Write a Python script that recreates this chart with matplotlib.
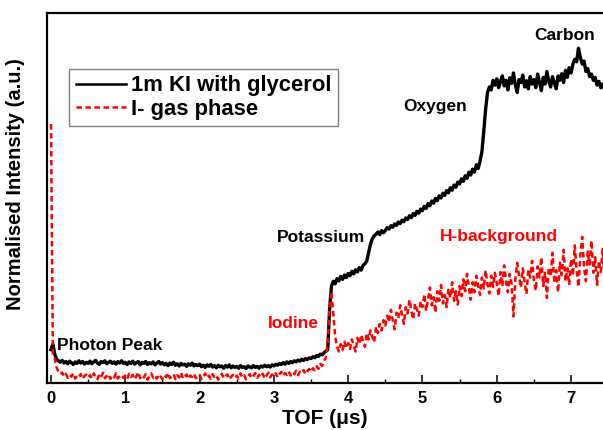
import numpy as np
import matplotlib
matplotlib.use("Agg")
import matplotlib.pyplot as plt
from matplotlib.ticker import MultipleLocator

plt.rcParams['font.family'] = ['Liberation Sans', 'DejaVu Sans']
plt.rcParams['font.weight'] = 'bold'

# sampling of the time-of-flight axis (µs)
TOF_START = 0.0
TOF_STEP = 0.025

# 1m KI with glycerol (normalised intensity), one row per 0.5 µs
ki_glycerol = [
    0.090, 0.105, 0.078, 0.064, 0.060, 0.056, 0.061, 0.054, 0.058, 0.052, 0.059, 0.055, 0.050, 0.057, 0.053, 0.060, 0.054, 0.058, 0.051, 0.056,
    0.053, 0.059, 0.052, 0.057, 0.061, 0.054, 0.050, 0.058, 0.055, 0.060, 0.052, 0.056, 0.059, 0.053, 0.057, 0.051, 0.058, 0.054, 0.060, 0.053,
    0.056, 0.050, 0.057, 0.053, 0.059, 0.051, 0.055, 0.058, 0.049, 0.056, 0.053, 0.058, 0.050, 0.055, 0.052, 0.057, 0.049, 0.054, 0.058, 0.051,
    0.055, 0.049, 0.053, 0.047, 0.054, 0.050, 0.056, 0.048, 0.052, 0.046, 0.053, 0.049, 0.051, 0.045, 0.052, 0.048, 0.054, 0.046, 0.050, 0.047,
    0.051, 0.044, 0.048, 0.042, 0.049, 0.045, 0.050, 0.043, 0.047, 0.041, 0.048, 0.044, 0.046, 0.040, 0.047, 0.043, 0.049, 0.041, 0.046, 0.042,
    0.045, 0.040, 0.047, 0.042, 0.044, 0.039, 0.046, 0.043, 0.041, 0.047, 0.042, 0.045, 0.040, 0.046, 0.043, 0.048, 0.044, 0.047, 0.043, 0.049,
    0.046, 0.051, 0.048, 0.053, 0.050, 0.055, 0.051, 0.057, 0.053, 0.058, 0.055, 0.060, 0.057, 0.062, 0.059, 0.064, 0.061, 0.066, 0.063, 0.068,
    0.066, 0.071, 0.068, 0.074, 0.072, 0.078, 0.076, 0.082, 0.086, 0.090, 0.200, 0.262, 0.275, 0.268, 0.282, 0.276, 0.288, 0.280, 0.292, 0.285,
    0.296, 0.290, 0.302, 0.295, 0.306, 0.300, 0.312, 0.305, 0.318, 0.322, 0.330, 0.352, 0.375, 0.390, 0.398, 0.402, 0.408, 0.401, 0.412, 0.406,
    0.412, 0.420, 0.416, 0.425, 0.421, 0.430, 0.426, 0.435, 0.431, 0.440, 0.436, 0.446, 0.442, 0.452, 0.447, 0.458, 0.453, 0.464, 0.459, 0.470,
    0.466, 0.478, 0.472, 0.485, 0.479, 0.492, 0.486, 0.499, 0.493, 0.506, 0.500, 0.513, 0.507, 0.520, 0.514, 0.528, 0.521, 0.535, 0.529, 0.543,
    0.538, 0.552, 0.545, 0.560, 0.553, 0.570, 0.562, 0.578, 0.570, 0.590, 0.580, 0.600, 0.625, 0.680, 0.740, 0.785, 0.800, 0.792, 0.818, 0.805,
    0.822, 0.798, 0.815, 0.830, 0.803, 0.818, 0.792, 0.825, 0.810, 0.838, 0.806, 0.785, 0.820, 0.812, 0.832, 0.800, 0.817, 0.795, 0.828, 0.808,
    0.820, 0.798, 0.835, 0.812, 0.790, 0.826, 0.808, 0.842, 0.815, 0.800, 0.828, 0.812, 0.795, 0.830, 0.818, 0.836, 0.812, 0.845, 0.826, 0.852,
    0.838, 0.862, 0.875, 0.868, 0.905, 0.880, 0.862, 0.870, 0.842, 0.850, 0.828, 0.835, 0.818, 0.826, 0.805, 0.815, 0.798, 0.808, 0.795, 0.800,
]

# I- gas phase (normalised intensity), one row per 0.5 µs
i_gas = [
    0.700, 0.075, 0.066, 0.042, 0.030, 0.024, 0.028, 0.018, 0.025, 0.014, 0.022, 0.017, 0.026, 0.012, 0.020, 0.016, 0.024, 0.011, 0.019, 0.023,
    0.015, 0.021, 0.012, 0.026, 0.017, 0.010, 0.023, 0.016, 0.028, 0.013, 0.019, 0.024, 0.011, 0.020, 0.015, 0.027, 0.012, 0.018, 0.022, 0.014,
    0.020, 0.011, 0.025, 0.016, 0.022, 0.010, 0.018, 0.029, 0.013, 0.021, 0.015, 0.024, 0.009, 0.019, 0.026, 0.014, 0.020, 0.012, 0.023, 0.017,
    0.011, 0.022, 0.016, 0.027, 0.013, 0.019, 0.024, 0.010, 0.021, 0.015, 0.028, 0.012, 0.018, 0.023, 0.011, 0.020, 0.016, 0.025, 0.013, 0.019,
    0.022, 0.010, 0.017, 0.026, 0.014, 0.020, 0.011, 0.024, 0.016, 0.021, 0.009, 0.018, 0.025, 0.013, 0.019, 0.023, 0.010, 0.017, 0.022, 0.014,
    0.020, 0.012, 0.026, 0.015, 0.021, 0.010, 0.018, 0.024, 0.013, 0.019, 0.027, 0.014, 0.022, 0.016, 0.025, 0.012, 0.020, 0.028, 0.015, 0.023,
    0.018, 0.026, 0.015, 0.024, 0.030, 0.019, 0.027, 0.022, 0.031, 0.020, 0.028, 0.024, 0.033, 0.021, 0.030, 0.026, 0.035, 0.024, 0.032, 0.038,
    0.030, 0.040, 0.034, 0.045, 0.038, 0.052, 0.046, 0.060, 0.068, 0.110, 0.205, 0.248, 0.185, 0.125, 0.098, 0.085, 0.105, 0.090, 0.112, 0.094,
    0.108, 0.092, 0.118, 0.100, 0.085, 0.122, 0.105, 0.130, 0.112, 0.098, 0.135, 0.118, 0.142, 0.125, 0.110, 0.152, 0.135, 0.160, 0.142, 0.170,
    0.155, 0.182, 0.165, 0.198, 0.170, 0.145, 0.190, 0.175, 0.210, 0.182, 0.160, 0.205, 0.188, 0.225, 0.195, 0.172, 0.215, 0.198, 0.182, 0.220,
    0.205, 0.240, 0.195, 0.225, 0.258, 0.210, 0.232, 0.190, 0.248, 0.222, 0.265, 0.215, 0.238, 0.205, 0.255, 0.230, 0.272, 0.222, 0.248, 0.212,
    0.262, 0.235, 0.280, 0.248, 0.295, 0.258, 0.225, 0.272, 0.245, 0.290, 0.262, 0.238, 0.285, 0.255, 0.305, 0.268, 0.242, 0.290, 0.260, 0.298,
    0.270, 0.235, 0.300, 0.262, 0.318, 0.275, 0.245, 0.295, 0.268, 0.180, 0.280, 0.325, 0.290, 0.258, 0.310, 0.272, 0.240, 0.305, 0.285, 0.330,
    0.278, 0.250, 0.315, 0.285, 0.340, 0.262, 0.298, 0.230, 0.312, 0.288, 0.352, 0.270, 0.305, 0.245, 0.325, 0.292, 0.360, 0.275, 0.310, 0.265,
    0.335, 0.290, 0.372, 0.305, 0.260, 0.345, 0.395, 0.312, 0.275, 0.355, 0.320, 0.385, 0.298, 0.340, 0.265, 0.330, 0.300, 0.362, 0.285, 0.318,
]

series_labels = ["1m KI with glycerol", "I- gas phase"]

# peak annotations: (text, x, y, colour-key)
annot_text = ["Photon Peak", "Iodine", "Potassium", "H-background", "Oxygen", "Carbon"]
annot_x = [0.08, 2.92, 3.04, 5.24, 4.74, 6.51]
annot_y = [0.100, 0.162, 0.392, 0.397, 0.746, 0.938]
annot_red = [False, True, False, True, False, False]

x_ticks = [0, 1, 2, 3, 4, 5, 6, 7]

tof = TOF_START + TOF_STEP * np.arange(len(ki_glycerol))

fig = plt.figure(figsize=(6.03, 4.30), dpi=100)
ax = fig.add_axes([47 / 603, 47 / 430, 556 / 603, 370 / 430])

ax.plot(tof, ki_glycerol, color='black', lw=2.4, label=series_labels[0])
ax.plot(tof[:len(i_gas)], i_gas, color='#ff0000', lw=1.8, ls=(0, (2.2, 1.4)), label=series_labels[1])

for t, x, y, r in zip(annot_text, annot_x, annot_y, annot_red):
    ax.text(x, y, t, color='#ff0000' if r else 'black', fontsize=12.5,
            fontweight='bold', ha='left', va='center')

ax.set_xlim(-0.054, 7.43)
ax.set_ylim(0, 1)
ax.set_xticks(x_ticks)
ax.set_xticklabels([str(v) for v in x_ticks])
ax.xaxis.set_minor_locator(MultipleLocator(0.5))
ax.tick_params(axis='x', which='major', direction='in', length=5.5, width=1.1,
               labelsize=12, pad=6)
ax.tick_params(axis='x', which='minor', direction='in', length=3, width=1.0)
ax.set_yticks([])
for s in ['left', 'top', 'bottom']:
    ax.spines[s].set_linewidth(1.6)
ax.spines['right'].set_visible(False)

ax.set_xlabel("TOF (μs)", fontsize=15, fontweight='bold', labelpad=2)
ax.set_ylabel("Normalised Intensity (a.u.)", fontsize=14.5, fontweight='bold')
ax.yaxis.set_label_coords(-0.040, 0.538)

leg = ax.legend(loc='upper left', bbox_to_anchor=(0.040, 0.849), borderaxespad=0,
                fontsize=15.8, frameon=True, fancybox=False, framealpha=1,
                edgecolor='#808080', labelspacing=0.1, borderpad=0.3,
                handlelength=2.3, handletextpad=0.2)
leg.get_frame().set_linewidth(1.0)
for line in leg.get_lines():
    line.set_linewidth(1.8)
for txt in leg.get_texts():
    txt.set_fontweight('bold')

fig.savefig("out.png", dpi=100)
